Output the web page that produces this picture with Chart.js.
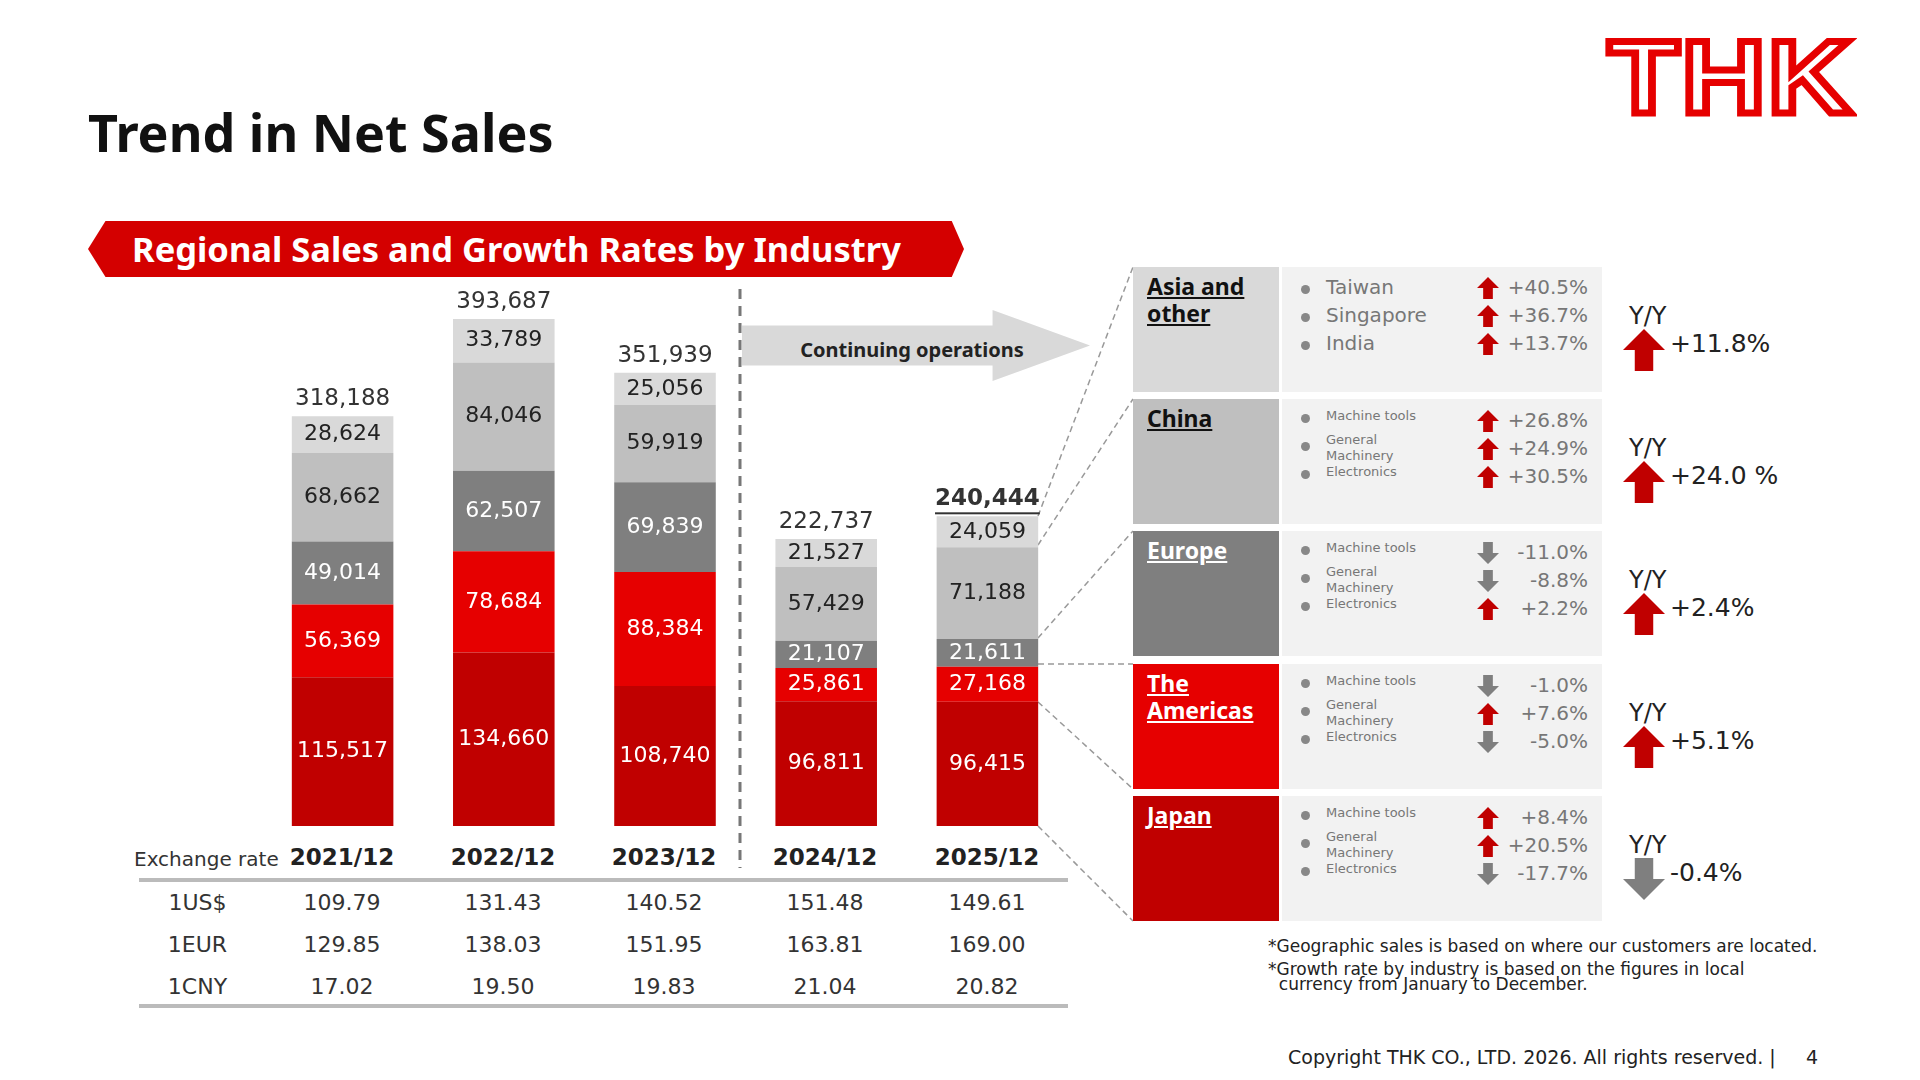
<!DOCTYPE html>
<html><head><meta charset="utf-8">
<script src="https://cdn.jsdelivr.net/npm/chart.js@4"></script>
<style>
body{margin:0;width:1920px;height:1080px;background:#fff;position:relative;overflow:hidden;font-family:"DejaVu Sans",Verdana,sans-serif;color:#222}
.a{position:absolute}
#title{left:88px;top:96px;font:bold 52px "Noto Sans",sans-serif;color:#111}
#logo{left:1608px;top:18px;font:bold 104px "Liberation Sans",Arial,sans-serif;color:#fff;-webkit-text-stroke:7px #e60000;letter-spacing:2px;transform:scaleX(1.12);transform-origin:left}
#banner{left:88px;top:221px;width:876px;height:56px;background:#d40000;clip-path:polygon(2% 0,98.6% 0,100% 50%,98.6% 100%,2% 100%,0 50%);color:#fff;font:bold 34.5px "Noto Sans",sans-serif;line-height:56px;padding-left:44px;box-sizing:border-box}
#arrow{left:742px;top:310px;width:348px;height:71px;background:#d9d9d9;clip-path:polygon(0 22%,72% 22%,72% 0,100% 50%,72% 100%,72% 78%,0 78%);}
#arrowt{left:772px;top:336px;width:280px;text-align:center;font:bold 20px "Noto Sans",sans-serif;color:#222}
.row{font-size:22px;color:#333}
.box{position:absolute}
.lab{color:#fff;font:bold 23px "Noto Sans",sans-serif;text-decoration:underline;padding:6px 14px;box-sizing:border-box;line-height:27px}
.it{position:absolute;color:#777}
</style></head><body>
<div id="title" class="a">Trend in Net Sales</div>
<div id="logo" class="a">THK</div>
<div id="banner" class="a">Regional Sales and Growth Rates by Industry</div>
<div id="arrow" class="a"></div>
<div id="arrowt" class="a">Continuing operations</div>
<svg class="a" style="left:0;top:0" width="1920" height="1080">
<line x1="740" y1="289" x2="740" y2="868" stroke="#777" stroke-width="3" stroke-dasharray="10,7"/>
<g stroke="#999" stroke-width="1.5" stroke-dasharray="6,4" fill="none">
<line x1="1038" y1="516" x2="1133" y2="267"/>
<line x1="1038" y1="545" x2="1133" y2="399"/>
<line x1="1038" y1="638" x2="1133" y2="531"/>
<line x1="1038" y1="664" x2="1133" y2="664"/>
<line x1="1038" y1="702" x2="1133" y2="789"/>
<line x1="1038" y1="826" x2="1133" y2="921"/>
</g>
<line x1="139" y1="880" x2="1068" y2="880" stroke="#bbb" stroke-width="4"/>
<line x1="139" y1="1006" x2="1068" y2="1006" stroke="#bbb" stroke-width="4"/>
</svg>
<canvas id="c" class="a" style="left:262px;top:182px" width="806" height="644"></canvas>
<div id="extra"></div>
<script>
const categories=["2021/12","2022/12","2023/12","2024/12","2025/12"];
const japan=[115517,134660,108740,96811,96415];
const americas=[56369,78684,88384,25861,27168];
const europe=[49014,62507,69839,21107,21611];
const china=[68662,84046,59919,57429,71188];
const asia=[28624,33789,25056,21527,24059];
const totals=[318188,393687,351939,222737,240444];
const rateLabels=["1US$","1EUR","1CNY"];
const usd=[109.79,131.43,140.52,151.48,149.61];
const eur=[129.85,138.03,151.95,163.81,169.00];
const cny=[17.02,19.50,19.83,21.04,20.82];
const regions=["Asia and other","China","Europe","The Americas","Japan"];
const regionYY=[11.8,24.0,2.4,5.1,-0.4];
const regionYYText=["+11.8%","+24.0 %","+2.4%","+5.1%","-0.4%"];
const items=[["Taiwan","Singapore","India"],["Machine tools","General Machinery","Electronics"],["Machine tools","General Machinery","Electronics"],["Machine tools","General Machinery","Electronics"],["Machine tools","General Machinery","Electronics"]];
const growth=[[40.5,36.7,13.7],[26.8,24.9,30.5],[-11.0,-8.8,2.2],[-1.0,7.6,-5.0],[8.4,20.5,-17.7]];

const cols=["#c00000","#e60000","#7f7f7f","#bfbfbf","#d9d9d9"];
const txtc=["#fff","#fff","#fff","#222","#222"];
const labelPlugin={id:"lbl",afterDatasetsDraw(ch){const g=ch.ctx;g.save();g.textAlign="center";g.textBaseline="middle";
ch.data.datasets.forEach((ds,di)=>{ch.getDatasetMeta(di).data.forEach((b,i)=>{g.fillStyle=txtc[di];g.font="22px 'DejaVu Sans'";g.fillText(ds.data[i].toLocaleString("en-US"),b.x,(b.y+b.base)/2);});});
const top=ch.getDatasetMeta(4).data;top.forEach((b,i)=>{const t=totals[i].toLocaleString("en-US");g.fillStyle="#333";g.font=(i==4?"bold ":"")+"23px 'DejaVu Sans'";g.fillText(t,b.x,b.y-17);if(i==4){const w=g.measureText(t).width;g.fillRect(b.x-w/2,b.y-4,w,2);}});g.restore();}};
new Chart(document.getElementById("c"),{type:"bar",data:{labels:categories,datasets:[japan,americas,europe,china,asia].map((d,i)=>({data:d,backgroundColor:cols[i],borderWidth:0,barPercentage:0.63,categoryPercentage:1}))},
options:{responsive:false,animation:false,devicePixelRatio:1,layout:{padding:0},plugins:{legend:{display:false},tooltip:{enabled:false}},scales:{x:{display:false,stacked:true},y:{display:false,stacked:true,min:0,max:500000}}},plugins:[labelPlugin]});

let h="";
const cx=[342,503,664,825,987];
h+=`<div class="a row" style="left:134px;top:847px;font-size:20px">Exchange rate</div>`;
categories.forEach((c,i)=>h+=`<div class="a" style="left:${cx[i]-80}px;width:160px;text-align:center;top:844px;font:bold 23px 'DejaVu Sans';color:#222">${c}</div>`);
[usd,eur,cny].forEach((arr,r)=>{const y=890+r*42;h+=`<div class="a row" style="left:140px;width:115px;text-align:center;top:${y}px">${rateLabels[r]}</div>`;
arr.forEach((v,i)=>h+=`<div class="a row" style="left:${cx[i]-80}px;width:160px;text-align:center;top:${y}px">${v.toFixed(2)}</div>`);});
const arrow=(x,y,s,up,col)=>`<div class="a" style="left:${x}px;top:${y}px;width:${s}px;height:${s}px;background:${col};clip-path:${up?"polygon(50% 0,100% 50%,72% 50%,72% 100%,28% 100%,28% 50%,0 50%)":"polygon(28% 0,72% 0,72% 50%,100% 50%,50% 100%,0 50%,28% 50%)"}"></div>`;
const bt=[267,399,531,664,796],bh=125;
const bcol=["#d9d9d9","#bfbfbf","#7f7f7f","#e60000","#c00000"];
regions.forEach((r,k)=>{const y=bt[k];
h+=`<div class="box lab" style="left:1133px;top:${y}px;width:146px;height:${bh}px;background:${bcol[k]};color:${k<2?'#111':'#fff'}">${r=="Asia and other"?"Asia and<br>other":r=="The Americas"?"The<br>Americas":r}</div>`;
h+=`<div class="box" style="left:1282px;top:${y}px;width:320px;height:${bh}px;background:#f2f2f2"></div>`;
items[k].forEach((it,j)=>{const big=k==0;const iy=y+(big?12:13)+j*28;
h+=`<div class="a" style="left:1301px;top:${iy+(big?6:2)}px;width:9px;height:9px;border-radius:50%;background:#888"></div>`;
h+= big?`<div class="it" style="left:1326px;top:${iy-4}px;font-size:20px">${it}</div>`:`<div class="it" style="left:1326px;top:${iy-(it.startsWith('General')?8:4)}px;font-size:13px;line-height:16px">${it.replace('General ','General<br>')}</div>`;
const g=growth[k][j];h+=arrow(1477,iy-2,22,g>0,g>0?"#c00000":"#7f7f7f");
h+=`<div class="it" style="left:1500px;width:88px;text-align:right;top:${iy-4}px;font-size:20px">${g>0?"+":""}${g.toFixed(1)}%</div>`;});
const up=regionYY[k]>0;
h+=`<div class="a" style="left:1629px;top:${y+35}px;font-size:24px;color:#222">Y/Y</div>`;
h+=arrow(1623,y+62,42,up,up?"#c00000":"#7f7f7f");
h+=`<div class="a" style="left:1670px;top:${y+62}px;font-size:25px;color:#222">${regionYYText[k]}</div>`;});
h+=`<div class="a" style="left:1268px;top:936px;font-size:17px;color:#222">*Geographic sales is based on where our customers are located.</div>`;
h+=`<div class="a" style="left:1268px;top:962px;font-size:17px;color:#222;line-height:15px">*Growth rate by industry is based on the figures in local<br>&nbsp;&nbsp;currency from January to December.</div>`;
h+=`<div class="a" style="left:1288px;top:1046px;font-size:19px;color:#222">Copyright THK CO., LTD. 2026. All rights reserved. |&nbsp;&nbsp;&nbsp;&nbsp;&nbsp;4</div>`;
document.getElementById("extra").innerHTML=h;
</script></body></html>
